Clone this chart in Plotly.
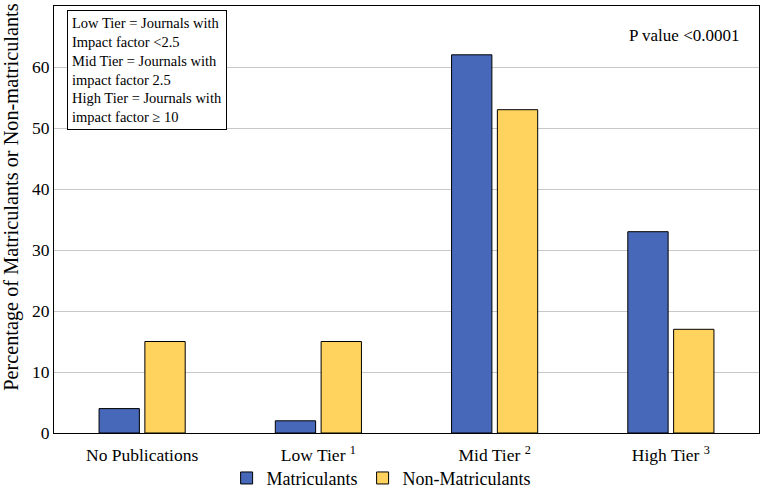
import plotly.graph_objects as go

categories = ["No Publications", "Low Tier <sup>1</sup>", "Mid Tier <sup>2</sup>", "High Tier <sup>3</sup>"]
matriculants = [4, 2, 62, 33]
non_matriculants = [15, 15, 53, 17]

FONT = "Times New Roman, Liberation Serif, DejaVu Serif, serif"

fig = go.Figure()
fig.add_trace(go.Bar(x=categories, y=matriculants, name="Matriculants",
                     marker=dict(color="#4767B8", line=dict(color="black", width=1))))
fig.add_trace(go.Bar(x=categories, y=non_matriculants, name="Non-Matriculants",
                     marker=dict(color="#FFD35E", line=dict(color="black", width=1))))

fig.update_layout(
    width=760, height=490,
    margin=dict(l=54, r=1, t=6, b=57, autoexpand=False),
    paper_bgcolor="white", plot_bgcolor="white",
    font=dict(family=FONT, size=16, color="black"),
    barmode="group", bargap=0.48, bargroupgap=0.12,
    showlegend=True,
    legend=dict(orientation="h", x=0.464, xanchor="center", y=-0.106, yanchor="middle",
                bgcolor="rgba(0,0,0,0)",
                font=dict(family=FONT, size=18), itemwidth=30),
    xaxis=dict(showline=True, linecolor="black", linewidth=1, mirror=True, automargin=False,
               ticks="", ticklabelstandoff=6, tickfont=dict(family=FONT, size=17.5)),
    yaxis=dict(range=[0, 70], dtick=10, showline=True, linecolor="black", linewidth=1,
               mirror=True, ticks="", showgrid=True, gridcolor="#C8C8C8", automargin=False,
               tickfont=dict(family=FONT, size=17.5)),
)

# y-axis title (placed as rotated text to match the reference position)
fig.add_annotation(
    xref="paper", yref="paper", x=-0.0596, y=0.553, xanchor="center", yanchor="middle",
    text="Percentage of Matriculants or Non-matriculants", textangle=-90,
    showarrow=False, font=dict(family=FONT, size=20.3),
)

fig.add_annotation(
    xref="paper", yref="paper", x=0.018, y=0.99, xanchor="left", yanchor="top",
    text="Low Tier = Journals with<br>Impact factor &lt;2.5<br>Mid Tier = Journals with<br>impact factor 2.5<br>High Tier = Journals with<br>impact factor ≥ 10",
    align="left", showarrow=False, font=dict(family=FONT, size=14.5),
    bordercolor="black", borderwidth=1, borderpad=4, bgcolor="white",
)
fig.add_annotation(
    xref="paper", yref="paper", x=0.974, y=0.932, xanchor="right", yanchor="middle",
    text="P value &lt;0.0001", showarrow=False, font=dict(family=FONT, size=17),
)

fig.write_html("out.html", config={"displayModeBar": False},
               post_script="document.body.style.margin='0';")
